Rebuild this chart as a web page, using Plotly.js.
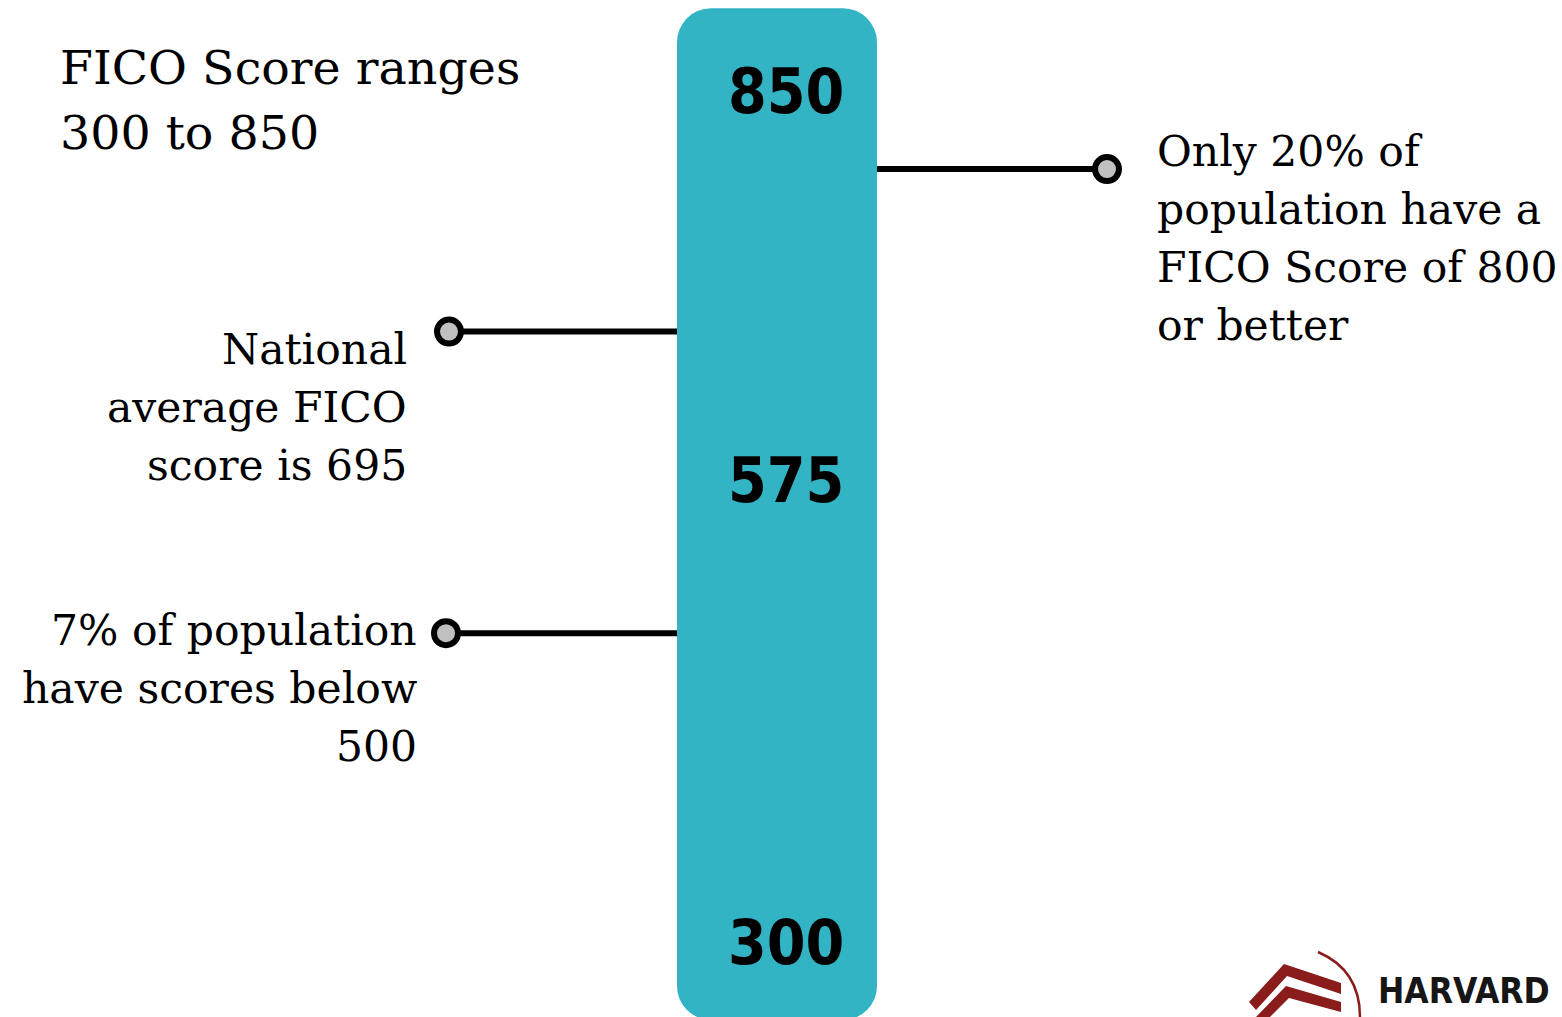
<!DOCTYPE html>
<html>
<head>
<meta charset="utf-8">
<script src="https://cdn.plot.ly/plotly-3.0.1.min.js"></script>
<style>
  html, body { margin: 0; padding: 0; background: #ffffff; overflow: hidden; }
  #chart { width: 1562px; height: 1017px; }
</style>
</head>
<body>
<div id="chart"></div>
<script>
// ---- data ----
const scoreLabels = [850, 575, 300];           // numbers printed on the bar
const barExtent = [250, 904];                  // score span covered by the drawn bar
const calloutScores = [800, 695, 500];         // where each callout meets the bar
const calloutSides = ['right', 'left', 'left'];
const calloutLines = [
  ['Only 20% of', 'population have a', 'FICO Score of 800', 'or better'],
  ['National', 'average FICO', 'score is 695'],
  ['7% of population', 'have scores below', '500']
];
const titleLines = ['FICO Score ranges', '300 to 850'];
const logoText = 'HARVARD UNIVERSITY';

// ---- layout constants (pixels / styling) ----
const W = 1562, H = 1017;
const yRange = [251.9, 909.3];
const xRange = [-7.77, 7.85];           // 1 unit = 100 px, bar centred at 0
const barPos = 0, barWidth = 2;
const barMid = (barExtent[0] + barExtent[1]) / 2;
const teal = '#32b4c5';
const slab = '"DejaVu Serif", "Liberation Serif", serif';
const lineGap = 58;

const traces = [];
// upper part of the bar (rounded top)
traces.push({
  type: 'bar', x: [barPos], base: [barMid], y: [barExtent[1] - barMid],
  width: barWidth, marker: {color: teal, cornerradius: 34, line: {width: 0}},
  hoverinfo: 'skip', showlegend: false
});
// lower part of the bar (rounded bottom)
traces.push({
  type: 'bar', x: [barPos], base: [barMid], y: [barExtent[0] - barMid],
  width: barWidth, marker: {color: teal, cornerradius: 34, line: {width: 0}},
  hoverinfo: 'skip', showlegend: false
});
// square middle section hiding the inner roundings
traces.push({
  type: 'bar', x: [barPos], base: [barMid - (barExtent[1] - barExtent[0]) / 4],
  y: [(barExtent[1] - barExtent[0]) / 2],
  width: barWidth, marker: {color: teal, line: {width: 0}},
  hoverinfo: 'skip', showlegend: false
});

const annotations = [];
const connectorEnd = [3.30, -3.28, -3.31];
const textAnchorX = [3.78, -3.68, -3.58];
const textOffsets = [18, -18, 3];
calloutScores.forEach((s, k) => {
  const side = calloutSides[k];
  const edge = side === 'right' ? barPos + barWidth / 2 : barPos - barWidth / 2;
  traces.push({
    type: 'scatter', mode: 'lines+markers',
    x: [edge, connectorEnd[k]], y: [s, s],
    line: {color: '#000000', width: 6},
    marker: {size: [0, 24], color: '#c0c0c0', opacity: 1, line: {color: '#000000', width: 6}},
    hoverinfo: 'skip', showlegend: false, cliponaxis: false
  });
  calloutLines[k].forEach((t, i) => {
    annotations.push({
      xref: 'x', yref: 'y', x: textAnchorX[k], y: s,
      xanchor: side === 'right' ? 'left' : 'right', yanchor: 'middle',
      yshift: textOffsets[k] - i * lineGap, showarrow: false, text: t,
      font: {family: slab, size: 42.5, color: '#000000'}
    });
  });
});

// numbers on the bar
scoreLabels.forEach((v) => {
  annotations.push({
    xref: 'x', yref: 'y', x: barPos + 0.69, y: v, xanchor: 'right', yanchor: 'middle',
    yshift: v === 575 ? 37 : 0,
    showarrow: false, text: '<span style="font-stretch:condensed">' + v + '</span>',
    font: {family: '"DejaVu Sans", "Liberation Sans", sans-serif', size: 62, weight: 'bold', color: '#000000'}
  });
});

// title block
titleLines.forEach((t, i) => {
  annotations.push({
    xref: 'paper', yref: 'paper', x: 58 / W, y: 1 - (68 + i * 64) / H,
    xanchor: 'left', yanchor: 'middle', showarrow: false, text: t,
    font: {family: slab, size: 47.5, color: '#000000'}
  });
});

// logo text
annotations.push({
  xref: 'paper', yref: 'paper', x: 1376 / W, y: 1 - 991 / H,
  xanchor: 'left', yanchor: 'middle', showarrow: false,
  text: '<span style="font-stretch:condensed">' + logoText + '</span>',
  font: {family: '"DejaVu Sans", "Liberation Sans", sans-serif', size: 35, weight: 'bold', color: '#161616'}
});

// logo graphics (decoration, paper coords)
function px(x, y) { return (x / W).toFixed(5) + ',' + (1 - y / H).toFixed(5); }
const maroon = '#8a1c1c';
const shapes = [
  {type: 'path', xref: 'paper', yref: 'paper', fillcolor: maroon, line: {width: 0},
   path: 'M' + px(1249, 1002) + ' L' + px(1284, 964) + ' L' + px(1341, 983) + ' L' + px(1341, 994) +
         ' L' + px(1287, 976) + ' L' + px(1256, 1010) + ' Z'},
  {type: 'path', xref: 'paper', yref: 'paper', fillcolor: maroon, line: {width: 0},
   path: 'M' + px(1256, 1017) + ' L' + px(1286, 986) + ' L' + px(1341, 1002) + ' L' + px(1341, 1012) +
         ' L' + px(1289, 998) + ' L' + px(1270, 1017) + ' Z'},
  {type: 'path', xref: 'paper', yref: 'paper', line: {color: maroon, width: 2.5},
   path: 'M' + px(1318, 952) + ' Q' + px(1360, 970) + ' ' + px(1360, 1017)}
];

const layout = {
  width: W, height: H,
  margin: {l: 0, r: 0, t: 0, b: 0, pad: 0},
  paper_bgcolor: '#ffffff', plot_bgcolor: '#ffffff',
  barmode: 'overlay', showlegend: false,
  xaxis: {range: xRange, visible: false, fixedrange: true},
  yaxis: {range: yRange, visible: false, fixedrange: true},
  annotations: annotations, shapes: shapes
};

Plotly.newPlot('chart', traces, layout, {displayModeBar: false, staticPlot: true});
</script>
</body>
</html>
